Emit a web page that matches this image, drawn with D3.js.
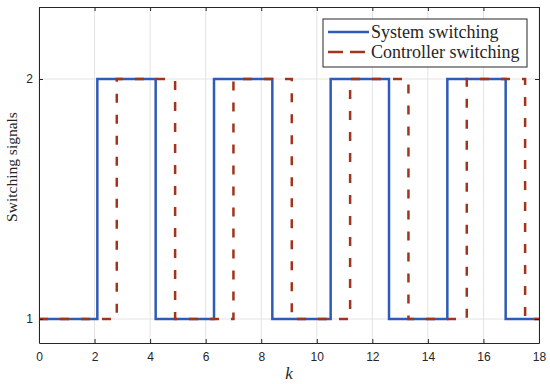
<!DOCTYPE html>
<html>
<head>
<meta charset="utf-8">
<script src="https://cdn.jsdelivr.net/npm/d3@7"></script>
<style>
  html, body { margin: 0; padding: 0; background: #fff; }
  svg { display: block; }
</style>
</head>
<body>
<div id="graph"></div>
<script>
"use strict";
// switching instants and the signal value held after each one
const sysK = [0, 2.1, 4.2, 6.3, 8.4, 10.5, 12.6, 14.7, 16.8, 18];
const sysVal = [1, 2, 1, 2, 1, 2, 1, 2, 1, 1];
const ctrlK = [0, 2.8, 4.9, 7.0, 9.1, 11.2, 13.3, 15.4, 17.5, 18];
const ctrlVal = [1, 2, 1, 2, 1, 2, 1, 2, 1, 1];
const xTicks = [0, 2, 4, 6, 8, 10, 12, 14, 16, 18];
const yTicks = [1, 2];
const legendLabels = ["System switching", "Controller switching"];

(function() {
    const W = 550, H = 384;
    const margin = {left: 39, right: 11, top: 7, bottom: 41};
    const pw = W - margin.left - margin.right;
    const ph = H - margin.top - margin.bottom;
    const blue = "#2f5bb8";
    const red = "#a2341c";
    const serif = "'Liberation Serif', 'Times New Roman', serif";

    const svg = d3.select("#graph").append("svg")
        .attr("width", W).attr("height", H);
    const g = svg.append("g")
        .attr("transform", "translate(" + margin.left + "," + margin.top + ")");

    const x = d3.scaleLinear().domain([0, 18]).range([0, pw]);
    const y = d3.scaleLinear().domain([0.9, 2.3]).range([ph, 0]);

    // grid
    g.append("g").selectAll("line").data(xTicks).join("line")
        .attr("x1", d => x(d)).attr("x2", d => x(d))
        .attr("y1", 0).attr("y2", ph)
        .attr("stroke", "#e3e3e3").attr("stroke-width", 1);
    g.append("g").selectAll("line").data(yTicks).join("line")
        .attr("x1", 0).attr("x2", pw)
        .attr("y1", d => y(d)).attr("y2", d => y(d))
        .attr("stroke", "#e3e3e3").attr("stroke-width", 1);

    // lines
    const line = d3.line()
        .x(d => x(d[0])).y(d => y(d[1]))
        .curve(d3.curveStepAfter);
    g.append("path")
        .datum(sysK.map((k, i) => [k, sysVal[i]]))
        .attr("d", line)
        .attr("fill", "none").attr("stroke", blue).attr("stroke-width", 2.5);
    g.append("path")
        .datum(ctrlK.map((k, i) => [k, ctrlVal[i]]))
        .attr("d", line)
        .attr("fill", "none").attr("stroke", red).attr("stroke-width", 2.5)
        .attr("stroke-dasharray", "9,12");

    // axes (ticks inward, box)
    const tickFont = "'Liberation Sans', Arial, sans-serif";
    const bottom = g.append("g").attr("transform", "translate(0," + ph + ")")
        .call(d3.axisBottom(x).tickValues(xTicks).tickSizeInner(-4).tickSizeOuter(0).tickPadding(9));
    const top = g.append("g")
        .call(d3.axisTop(x).tickValues(xTicks).tickSizeInner(-4).tickSizeOuter(0).tickFormat(""));
    const left = g.append("g")
        .call(d3.axisLeft(y).tickValues(yTicks).tickSizeInner(-4).tickSizeOuter(0)
            .tickPadding(6).tickFormat(d3.format("d")));
    const right = g.append("g").attr("transform", "translate(" + pw + ",0)")
        .call(d3.axisRight(y).tickValues(yTicks).tickSizeInner(-4).tickSizeOuter(0).tickFormat(""));
    [bottom, top, left, right].forEach(a => {
        a.selectAll("path").attr("stroke", "#262626").attr("stroke-width", 1);
        a.selectAll("line").attr("stroke", "#262626");
        a.selectAll("text").attr("font-family", tickFont).attr("font-size", 12).attr("fill", "#262626");
    });

    // labels
    svg.append("text")
        .attr("x", margin.left + pw / 2).attr("y", 379)
        .attr("text-anchor", "middle")
        .attr("font-family", serif)
        .attr("font-style", "italic").attr("font-size", 17).attr("fill", "#262626")
        .text("k");
    svg.append("text")
        .attr("transform", "translate(17,167) rotate(-90)")
        .attr("text-anchor", "middle")
        .attr("font-family", serif)
        .attr("font-size", 15.5).attr("fill", "#262626")
        .text("Switching signals");

    // legend
    const lg = svg.append("g").attr("transform", "translate(323,19)");
    lg.append("rect").attr("width", 204).attr("height", 48)
        .attr("fill", "#fff").attr("stroke", "#262626").attr("stroke-width", 1);
    const styles = [{c: blue, dash: null}, {c: red, dash: "15,7"}];
    legendLabels.forEach((t, i) => {
        const yy = 13 + i * 20;
        lg.append("line").attr("x1", 5).attr("x2", 46).attr("y1", yy).attr("y2", yy)
            .attr("stroke", styles[i].c).attr("stroke-width", 2.5)
            .attr("stroke-dasharray", styles[i].dash);
        lg.append("text").attr("x", 48).attr("y", yy + 5.5)
            .attr("font-family", serif)
            .attr("font-size", 18).attr("fill", "#262626")
            .text(t);
    });
})();
</script>
</body>
</html>
